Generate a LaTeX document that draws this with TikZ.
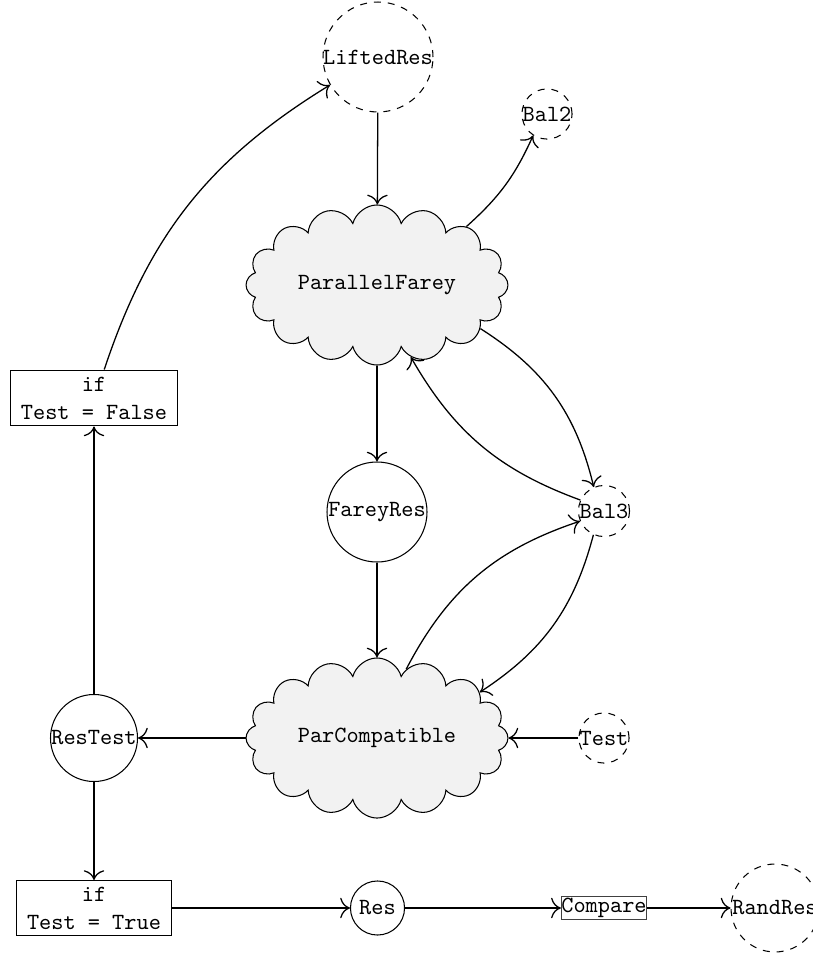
\documentclass[tikz,border=0pt]{standalone}
\usetikzlibrary{shapes.symbols,arrows.meta}
\begin{document}
\begin{tikzpicture}[x=0.431pt,y=-0.431pt, font=\ttfamily, >={To[scale=1.5]}, line width=0.55pt,
  circ/.style={circle,draw,inner sep=0pt,line width=0.45pt},
  dcirc/.style={circle,draw,dashed,inner sep=0pt,line width=0.45pt},
  cloudnode/.style={cloud,draw,fill=gray!10,cloud puffs=16,cloud puff arc=150,cloud ignores aspect,inner sep=0pt,minimum width=112.9pt,minimum height=69pt,line width=0.45pt},
  cond/.style={rectangle,draw,align=center,inner sep=0pt,line width=0.45pt},
  cmpbox/.style={rectangle,draw=black!75,inner xsep=0pt,inner ysep=0pt,minimum height=10.3pt,line width=0.45pt}]
\useasboundingbox (0,0) rectangle (813,953);
\clip (0,0) rectangle (813,953);
\node[dcirc,minimum size=47.4pt] (lifted) at (378,57) {\makebox[0pt]{LiftedRes}};
\node[dcirc,minimum size=21.6pt] (bal2) at (547,114) {\makebox[0pt]{Bal2}};
\node[cloudnode] (pf) at (377,285) {ParallelFarey};
\node[circ,minimum size=43.1pt] (farey) at (377,512) {\makebox[0pt]{FareyRes}};
\node[dcirc,minimum size=22pt] (bal3) at (604,511) {\makebox[0pt]{Bal3}};
\node[cloudnode] (pc) at (377,738) {ParCompatible};
\node[dcirc,minimum size=21.6pt] (test) at (604,738) {\makebox[0pt]{Test}};
\node[circ,minimum size=37.5pt] (restest) at (94,738) {\makebox[0pt]{ResTest}};
\node[cond,minimum width=72pt,minimum height=24.1pt] (iffalse) at (94,398) {if\\Test = False};
\node[cond,minimum width=67.2pt,minimum height=23.7pt] (iftrue) at (94,908) {if\\Test = True};
\node[circ,minimum size=23.3pt] (res) at (377.5,908) {\makebox[0pt]{Res}};
\node[cmpbox] (cmp) at (604,908) {Compare};
\node[dcirc,minimum size=37.9pt] (rand) at (775,908) {\makebox[0pt]{RandRes}};

\draw[->] (lifted) -- (pf);
\draw[->] (pf) to[bend right=12] (bal2);
\draw[->] (pf) -- (farey);
\draw[->] (pf) to[bend left=22] (bal3);
\draw[->] (bal3) to[bend left=20] (pf);
\draw[->] (farey) -- (pc);
\draw[->] (pc) to[bend left=22] (bal3);
\draw[->] (bal3) to[bend left=21] (pc);
\draw[->] (test) -- (pc);
\draw[->] (pc) -- (restest);
\draw[->] (restest) -- (iffalse);
\draw[->] (iffalse) to[bend left=20] (lifted);
\draw[->] (restest) -- (iftrue);
\draw[->] (iftrue) -- (res);
\draw[->] (res) -- (cmp);
\draw[->] (cmp) -- (rand);
\end{tikzpicture}
\end{document}
